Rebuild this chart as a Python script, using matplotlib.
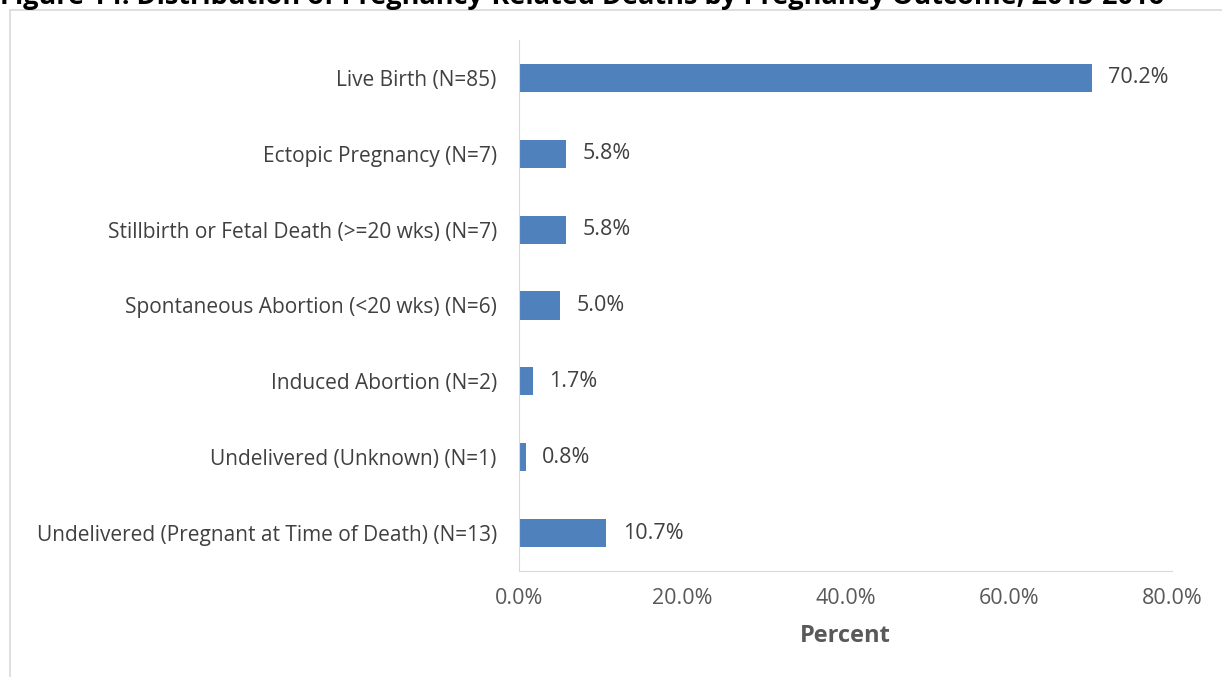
import matplotlib.pyplot as plt
from matplotlib.patches import Rectangle
from matplotlib.ticker import FuncFormatter

plt.rcParams['font.family'] = ['Open Sans', 'DejaVu Sans']

# data
categories = ['Live Birth (N=85)',
              'Ectopic Pregnancy (N=7)',
              'Stillbirth or Fetal Death (>=20 wks) (N=7)',
              'Spontaneous Abortion (<20 wks) (N=6)',
              'Induced Abortion (N=2)',
              'Undelivered (Unknown) (N=1)',
              'Undelivered (Pregnant at Time of Death) (N=13)']
percents = [70.2, 5.8, 5.8, 5.0, 1.7, 0.8, 10.7]
x_ticks = [0, 20, 40, 60, 80]

W, H = 1222, 677
fig = plt.figure(figsize=(W / 100, H / 100), dpi=100)

# chart frame (runs past the right and bottom edge of the crop)
fig.patches.append(Rectangle((10 / W, -0.1), 1.2, 1 - 10 / H + 0.1,
                             transform=fig.transFigure, fill=False,
                             edgecolor='#D9D9D9', lw=1.2))

# title, cut off at the top like in the source image
fig.text(0.0, 1 - 4 / H, 'Figure 14: Distribution of Pregnancy-Related Deaths by Pregnancy Outcome, 2015-2016',
         fontsize=19.5, fontweight='bold', color='black', va='baseline', ha='left')

ax = fig.add_axes([519 / W, 1 - 571 / H, (1172 - 519) / W, (571 - 40) / H])

ypos = list(range(len(categories)))
ax.barh(ypos, percents, height=0.37, color='#4F81BD')
ax.set_ylim(len(categories) - 0.5, -0.5)
ax.set_xlim(0, 80)
ax.set_yticks(ypos)
ax.set_yticklabels(categories, fontsize=15, color='#404040')
ax.set_xticks(x_ticks)
ax.xaxis.set_major_formatter(FuncFormatter(lambda v, p: f'{v:.1f}%'))
ax.tick_params(axis='x', labelsize=15.5, labelcolor='#595959', length=0, pad=12)
ax.tick_params(axis='y', length=0, pad=16)

for y, v in zip(ypos, percents):
    ax.text(v + 2.0, y, f'{v:.1f}%', va='center', ha='left', fontsize=15.5, color='#404040')

for s in ['top', 'right']:
    ax.spines[s].set_visible(False)
ax.spines['left'].set_color('#D9D9D9')
ax.spines['bottom'].set_color('#D9D9D9')

ax.set_xlabel('Percent', fontsize=17, fontweight='bold', color='#595959', labelpad=11)

fig.savefig('out.png', dpi=100)
